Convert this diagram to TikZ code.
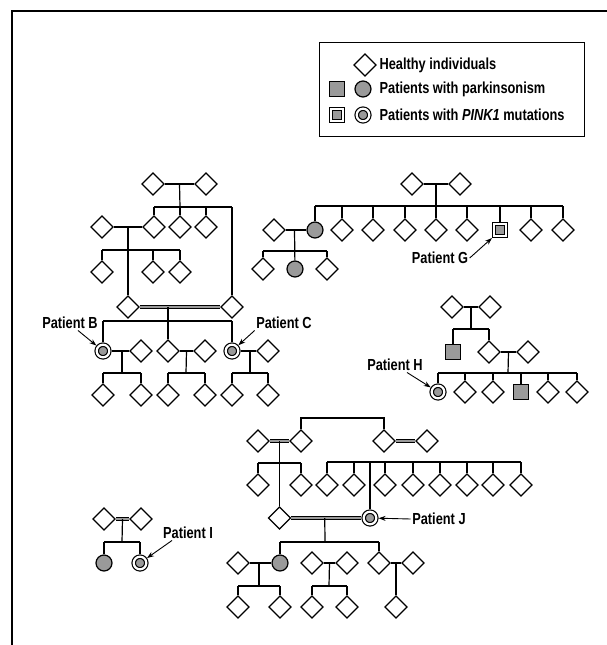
\documentclass[tikz,border=0pt]{standalone}
\usepackage{fontspec}
\setmainfont{Liberation Sans}[FakeStretch=0.8]
\usetikzlibrary{arrows.meta,calc,shapes.geometric}
\definecolor{patientGray}{HTML}{9A9A9A}

\begin{document}
\begin{tikzpicture}[
    x=1pt, y=-1pt,
    line width=1.2pt,
    >={Stealth[length=7pt,width=5pt]},
    healthy/.style={diamond, draw, fill=white, aspect=1, minimum size=22.5pt, inner sep=0pt},
    pdcircle/.style={circle, draw, fill=patientGray, minimum size=16pt, inner sep=0pt},
    pdsquare/.style={rectangle, draw, fill=patientGray, minimum size=15.5pt, inner sep=0pt},
    pkcircle/.style={circle, draw, double=white, double distance=2.2pt, fill=patientGray, minimum size=12.6pt, inner sep=0pt, outer sep=2.3pt},
    pksquare/.style={rectangle, draw, double=white, double distance=2pt, fill=patientGray, minimum size=11.5pt, inner sep=0pt, outer sep=2.3pt},
    consang/.style={double=patientGray, double distance=2pt, line width=0.8pt},
    patlabel/.style={font=\fontsize{16}{19}\selectfont\bfseries, inner sep=1pt},
    legtext/.style={font=\fontsize{16}{19}\selectfont\bfseries, anchor=west, inner sep=0pt},
    pointer/.style={->, line width=0.9pt},
  ]
  \useasboundingbox (0,0) rectangle (607,645);

  % Frame
  \coordinate (frBL) at (12,645);
  \coordinate (frTL) at (12,11);
  \coordinate (frTR) at (607,11);
  \draw[line width=1.4pt] (frBL) -- (frTL) -- (frTR);

  % Legend
  \node[draw, line width=0.9pt, anchor=north west, minimum width=265pt, minimum height=94pt] (legend) at (318.5,42) {};
  \node[healthy]  (lgH)  at (365,65) {};
  \node[legtext]  (lgHt) at (379,65) {Healthy individuals};
  \node[pdsquare] (lgPs) at (337,89) {};
  \node[pdcircle] (lgPc) at (363,89) {};
  \node[legtext]  (lgPt) at (379,89) {Patients with parkinsonism};
  \node[pksquare] (lgMs) at (337,115) {};
  \node[pkcircle] (lgMc) at (363,115) {};
  \node[legtext]  (lgMt) at (379,115) {Patients with \textit{PINK1} mutations};

  % Family of patients B and C
  \node[healthy] (a1) at (153,184) {};
  \node[healthy] (a2) at (206,184) {};
  \node[healthy] (a4) at (102,227) {};
  \node[healthy] (a3) at (154,227) {};
  \node[healthy] (a5) at (180,227) {};
  \node[healthy] (a6) at (206,227) {};
  \node[healthy] (a7) at (102,272) {};
  \node[healthy] (a8) at (153,272) {};
  \node[healthy] (a9) at (180,272) {};
  \node[healthy] (b1) at (128,307) {};
  \node[healthy] (b2) at (232,307) {};
  \node[pkcircle] (pB) at (103,351) {};
  \node[healthy] (b3) at (141,351) {};
  \node[healthy] (b4) at (168,351) {};
  \node[healthy] (b5) at (205,351) {};
  \node[pkcircle] (pC) at (232,351) {};
  \node[healthy] (b6) at (268,351) {};
  \node[healthy] (c1) at (103,395) {};
  \node[healthy] (c2) at (141,395) {};
  \node[healthy] (c3) at (168,395) {};
  \node[healthy] (c4) at (205,395) {};
  \node[healthy] (c5) at (232,395) {};
  \node[healthy] (c6) at (268,395) {};

  \coordinate (sA1) at (180,207);
  \coordinate (sA2) at (128,250);
  \coordinate (sA3) at (168,321);
  \coordinate (sB) at (122,373);
  \coordinate (sC4) at (186,373);
  \coordinate (sC) at (250,373);

  \draw (a1) -- (a2);
  \draw ($(a1)!.5!(a2)$) -- (sA1);
  \draw (a3 |- sA1) -- (b2 |- sA1);
  \foreach \c in {a3,a5,a6,b2} \draw (\c) -- (\c |- sA1);
  \draw (a4) -- (a3);
  \draw ($(a4)!.5!(a3)$) -- (b1);
  \draw (a7 |- sA2) -- (a9 |- sA2);
  \foreach \c in {a7,a8,a9} \draw (\c) -- (\c |- sA2);
  \draw[consang] (b1) -- (b2);
  \draw (b4 |- b1) -- (b4);
  \draw (pB |- sA3) -- (pC |- sA3);
  \foreach \c in {pB,pC} \draw (\c) -- (\c |- sA3);
  \draw (pB) -- (b3);
  \draw (b4) -- (b5);
  \draw (pC) -- (b6);
  \draw ($(pB)!.5!(b3)$) -- (sB);
  \draw ($(b4)!.5!(b5)$) -- (sC4);
  \draw ($(pC)!.5!(b6)$) -- (sC);
  \draw (c1 |- sB) -- (c2 |- sB);
  \draw (c3 |- sC4) -- (c4 |- sC4);
  \draw (c5 |- sC) -- (c6 |- sC);
  \foreach \c in {c1,c2,c3,c4,c5,c6} \draw (\c) -- (\c |- sB);

  \node[patlabel] (labB) at (70,323) {Patient B};
  \node[patlabel] (labC) at (284,323) {Patient C};
  \draw[pointer] ([xshift=8pt]labB.south) -- (pB);
  \draw[pointer] (labC.south west) -- (pC);

  % Family of patient G
  \node[healthy] (g1) at (412,184) {};
  \node[healthy] (g2) at (460,184) {};
  \node[healthy] (g11) at (274,230) {};
  \node[pdcircle] (g3) at (315,230) {};
  \node[healthy] (g4) at (342,230) {};
  \node[healthy] (g5) at (373,230) {};
  \node[healthy] (g6) at (405,230) {};
  \node[healthy] (g7) at (436,230) {};
  \node[healthy] (g8) at (467,230) {};
  \node[pksquare] (pG) at (500,230) {};
  \node[healthy] (g9) at (531,230) {};
  \node[healthy] (g10) at (563,230) {};
  \node[healthy] (g12) at (263,269) {};
  \node[pdcircle] (g13) at (295,269) {};
  \node[healthy] (g14) at (327,269) {};

  \coordinate (sG1) at (436,206);
  \coordinate (sG2) at (295,251);
  \draw (g1) -- (g2);
  \draw ($(g1)!.5!(g2)$) -- (sG1);
  \draw (g3 |- sG1) -- (g10 |- sG1);
  \foreach \c in {g3,g4,g5,g6,g7,g8,pG,g9,g10} \draw (\c) -- (\c |- sG1);
  \draw (g11) -- (g3);
  \draw ($(g11)!.5!(g3)$) -- (g13);
  \draw (g12 |- sG2) -- (g14 |- sG2);
  \foreach \c in {g12,g14} \draw (\c) -- (\c |- sG2);

  \node[patlabel] (labG) at (440,258) {Patient G};
  \draw[pointer] (labG.east) -- (pG.south west);

  % Family of patient H
  \node[healthy] (h1) at (452,307) {};
  \node[healthy] (h2) at (490,307) {};
  \node[pdsquare] (h3) at (453,352) {};
  \node[healthy] (h4) at (489,352) {};
  \node[healthy] (h5) at (528,352) {};
  \node[pkcircle] (pH) at (438,392) {};
  \node[healthy] (h6) at (465,392) {};
  \node[healthy] (h7) at (493,392) {};
  \node[pdsquare] (h8) at (521,392) {};
  \node[healthy] (h9) at (548,392) {};
  \node[healthy] (h10) at (577,392) {};

  \coordinate (sH1) at (471,329);
  \coordinate (sH2) at (508,373);
  \draw (h1) -- (h2);
  \draw ($(h1)!.5!(h2)$) -- (sH1);
  \draw (h3 |- sH1) -- (h4 |- sH1);
  \foreach \c in {h3,h4} \draw (\c) -- (\c |- sH1);
  \draw (h4) -- (h5);
  \draw ($(h4)!.5!(h5)$) -- (sH2);
  \draw (pH |- sH2) -- (h10 |- sH2);
  \foreach \c in {pH,h6,h7,h8,h9,h10} \draw (\c) -- (\c |- sH2);

  \node[patlabel] (labH) at (395,365) {Patient H};
  \draw[pointer] ([xshift=12pt]labH.south) -- (pH);

  % Family of patient J
  \node[healthy] (j0) at (258,441) {};
  \node[healthy] (j1) at (301,441) {};
  \node[healthy] (j3) at (384,441) {};
  \node[healthy] (j4) at (427,441) {};
  \node[healthy] (j6) at (258,485) {};
  \node[healthy] (j7) at (301,485) {};
  \node[healthy] (j8) at (327,485) {};
  \node[healthy] (j9) at (354,485) {};
  \node[healthy] (j10) at (385,485) {};
  \node[healthy] (j11) at (413,485) {};
  \node[healthy] (j12) at (440,485) {};
  \node[healthy] (j13) at (467,485) {};
  \node[healthy] (j14) at (493,485) {};
  \node[healthy] (j15) at (521,485) {};
  \node[healthy] (j5) at (279.5,518) {};
  \node[pkcircle] (pJ) at (370,518) {};
  \node[healthy] (k0) at (238,563) {};
  \node[pdcircle] (k1) at (280,563) {};
  \node[healthy] (k3) at (312,563) {};
  \node[healthy] (k4) at (347,563) {};
  \node[healthy] (k6) at (379,563) {};
  \node[healthy] (k7) at (413,563) {};
  \node[healthy] (m1) at (238,607) {};
  \node[healthy] (m2) at (280,607) {};
  \node[healthy] (m3) at (312,607) {};
  \node[healthy] (m4) at (347,607) {};
  \node[healthy] (m5) at (396,607) {};

  \coordinate (sJ0) at (342,418);
  \coordinate (sJ1) at (279,463);
  \coordinate (sJ2) at (424,462);
  \coordinate (sJ3) at (325,542);
  \coordinate (sK1) at (259,586);
  \coordinate (sK2) at (329,586);
  \draw (j1) -- (j1 |- sJ0) -- (j3 |- sJ0) -- (j3);
  \draw[consang] (j0) -- (j1);
  \draw[consang] (j3) -- (j4);
  \draw ($(j0)!.5!(j1)$) -- (j5);
  \draw (j6 |- sJ1) -- (j7 |- sJ1);
  \foreach \c in {j6,j7} \draw (\c) -- (\c |- sJ1);
  \draw (j8 |- sJ2) -- (j15 |- sJ2);
  \foreach \c in {j8,j9,pJ,j10,j11,j12,j13,j14,j15} \draw (\c) -- (\c |- sJ2);
  \draw[consang] (j5) -- (pJ);
  \draw ($(j5)!.5!(pJ)$) -- (sJ3);
  \draw (k1 |- sJ3) -- (k6 |- sJ3);
  \foreach \c in {k1,k6} \draw (\c) -- (\c |- sJ3);
  \draw (k0) -- (k1);
  \draw (k3) -- (k4);
  \draw (k6) -- (k7);
  \draw ($(k0)!.5!(k1)$) -- (sK1);
  \draw ($(k3)!.5!(k4)$) -- (sK2);
  \draw ($(k6)!.5!(k7)$) -- (m5);
  \draw (m1 |- sK1) -- (m2 |- sK1);
  \draw (m3 |- sK2) -- (m4 |- sK2);
  \foreach \c in {m1,m2,m3,m4} \draw (\c) -- (\c |- sK1);

  \node[patlabel] (labJ) at (439,519) {Patient J};
  \draw[pointer] (labJ.west) -- (pJ);

  % Family of patient I
  \node[healthy] (i1) at (104,519) {};
  \node[healthy] (i2) at (141,519) {};
  \node[pdcircle] (i3) at (104,563) {};
  \node[pkcircle] (pI) at (140,563) {};

  \coordinate (sI) at (122,542);
  \draw[consang] (i1) -- (i2);
  \draw ($(i1)!.5!(i2)$) -- (sI);
  \draw (i3 |- sI) -- (pI |- sI);
  \foreach \c in {i3,pI} \draw (\c) -- (\c |- sI);

  \node[patlabel] (labI) at (188,533) {Patient I};
  \draw[pointer] ([xshift=-16pt]labI.south) -- (pI);

\end{tikzpicture}
\end{document}
